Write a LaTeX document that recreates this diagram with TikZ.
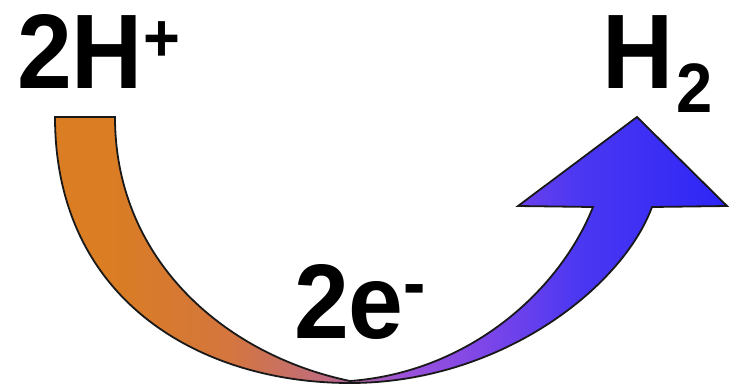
\documentclass[tikz,border=0pt]{standalone}
\usepackage{fontspec}
\setmainfont{Liberation Sans}
\newfontfamily\narrowsans[FakeStretch=0.93]{Liberation Sans}
\definecolor{cA}{RGB}{218,125,35}
\definecolor{cB}{RGB}{212,118,62}
\definecolor{cC}{RGB}{192,108,125}
\definecolor{cD}{RGB}{155,82,218}
\definecolor{cE}{RGB}{125,70,232}
\definecolor{cF}{RGB}{75,55,242}
\definecolor{cG}{RGB}{45,38,246}
\pgfdeclarehorizontalshading{ribbonshade}{100bp}{color(0bp)=(cA); color(29bp)=(cA); color(38bp)=(cB); color(45bp)=(cC); color(51bp)=(cD); color(57bp)=(cE); color(64bp)=(cF); color(75bp)=(cG); color(100bp)=(cG)}
\tikzset{
  bigtext/.style={inner sep=0pt, outer sep=0pt, font=\narrowsans\fontsize{106}{106}\selectfont\bfseries, text=black},
  ribbon/.style={draw=black!90, line width=1.8pt, line join=miter, shading=ribbonshade}
}
\begin{document}
\begin{tikzpicture}[x=1pt,y=-1pt]
\useasboundingbox (0,0) rectangle (732,386);
\coordinate (tl) at (55,117);
\coordinate (tr) at (115,117);
\coordinate (bot) at (350,381);
\coordinate (bot2) at (350,383);
\coordinate (sl) at (593,207);
\coordinate (sr) at (652,207);
\coordinate (hl) at (518,206);
\coordinate (tip) at (637,117);
\coordinate (hr) at (727,206);
\path[ribbon] (tl) -- (tr)
  .. controls (115,260) and (225,355) .. (bot)
  .. controls (470,372) and (560,290) .. (sl)
  -- (hl) -- (tip) -- (hr) -- (sr)
  .. controls (622,288) and (500,383) .. (bot2)
  .. controls (200,383) and (55,300) .. (tl) -- cycle;
\node[bigtext, anchor=base west] (hplus) at (17,88) {2H\raisebox{27pt}{\fontsize{68}{68}\selectfont +}};
\node[bigtext, anchor=base west] (htwo) at (602,88) {H\kern3pt\raisebox{-24pt}{\fontsize{70}{70}\selectfont 2}};
\node[bigtext, anchor=base west] (etwo) at (294,338) {2e\raisebox{31pt}{\fontsize{72}{72}\selectfont -}};
\end{tikzpicture}
\end{document}
